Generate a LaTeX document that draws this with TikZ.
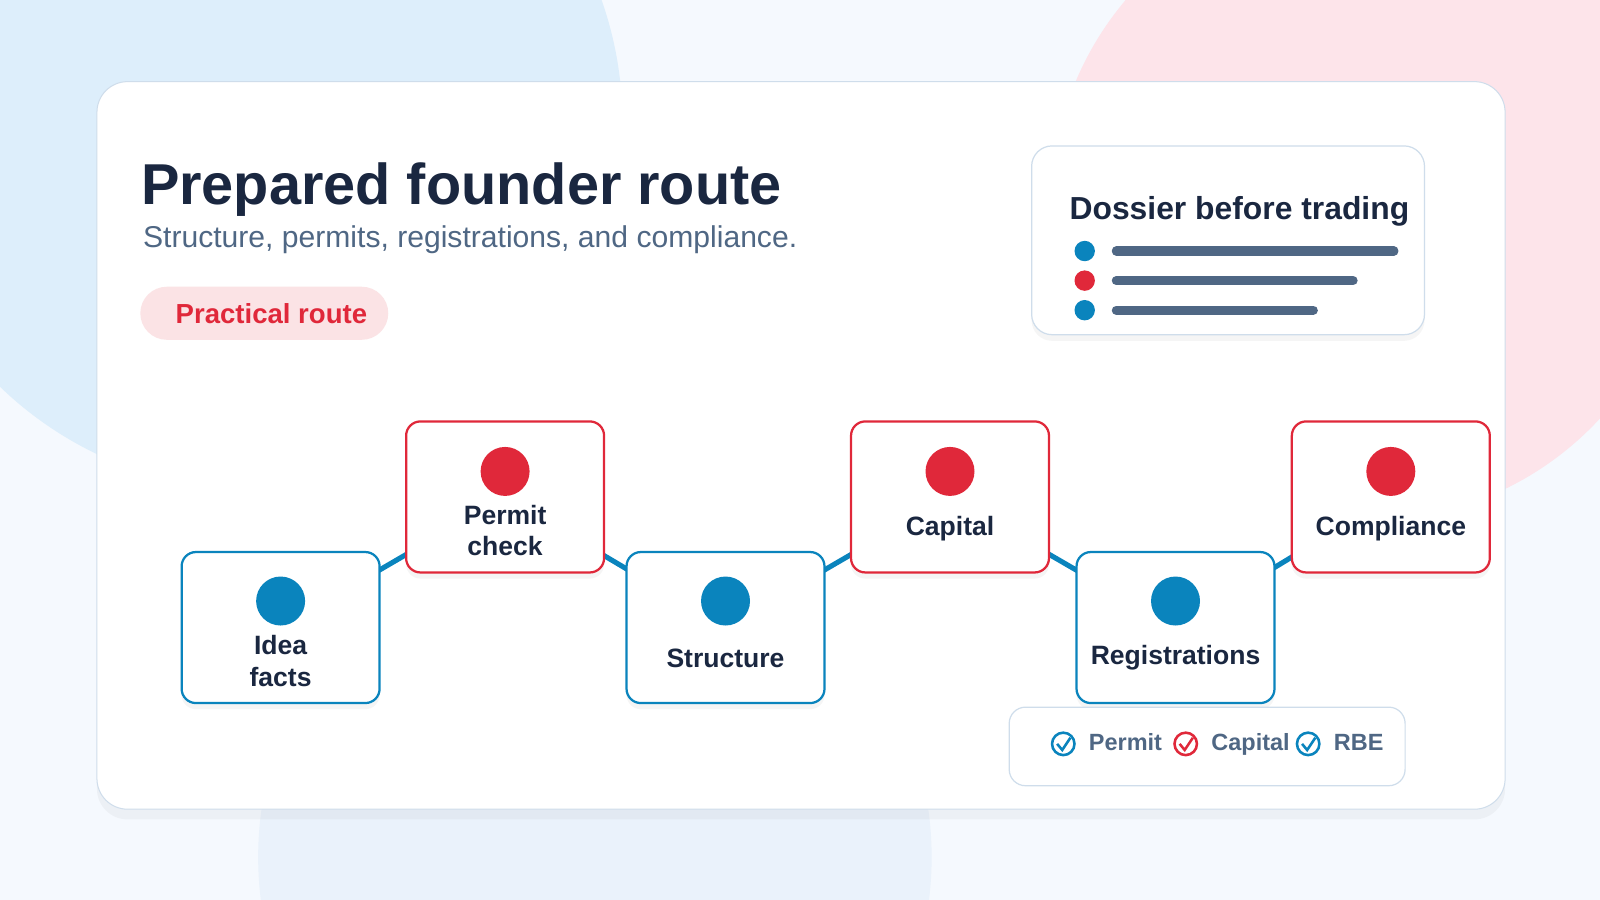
\documentclass[tikz,border=0pt]{standalone}
\usepackage{fontspec}
\setmainfont{Liberation Sans}
\usetikzlibrary{shadows}
\definecolor{bl}{HTML}{0A84BD}
\definecolor{rd}{HTML}{E0283A}
\definecolor{dk}{HTML}{1A2740}
\definecolor{gr}{HTML}{4F6784}
\definecolor{bd}{HTML}{CFDDEB}
\definecolor{bgb}{HTML}{DDEEFB}
\definecolor{bgp}{HTML}{FDE4EA}
\definecolor{bgl}{HTML}{EAF2FB}
\definecolor{bg}{HTML}{F5F9FE}
\tikzset{
  stepbox/.style={draw=#1,line width=2.2pt,fill=white,rounded corners=14pt,minimum width=194pt,minimum height=148pt,
    drop shadow={opacity=0.08,shadow xshift=0pt,shadow yshift=-6pt}},
  lbl/.style={font=\fontsize{26}{31}\selectfont\bfseries,text=dk,align=center},
  dot/.style={circle,fill=#1,minimum size=48pt,inner sep=0pt},
  link/.style={draw=bl,line width=5pt},
  bar/.style={draw=gr,line width=9pt,line cap=round},
  chk/.style={circle,draw=#1,line width=2.5pt,minimum size=22pt,inner sep=0pt},
}
\begin{document}
\begin{tikzpicture}[x=1pt,y=-1pt]
\useasboundingbox (0,0) rectangle (1568,882);
\fill[bg] (0,0) rectangle (1568,882);
\fill[bgb] (250,120) circle (360);
\fill[bgp] (1340,200) circle (310);
\fill[bgl] (583,840) circle (330);
\node[draw=bd,line width=1pt,fill=white,rounded corners=30pt,minimum width=1380pt,minimum height=713pt,
  drop shadow={opacity=0.07,shadow xshift=0pt,shadow yshift=-10pt}] (card) at (785,436.5) {};
\node[anchor=base west,font=\fontsize{56.5}{60}\selectfont\bfseries,text=dk,inner sep=0] (title) at (138,200) {Prepared founder route};
\node[anchor=base west,font=\fontsize{29.5}{30}\selectfont,text=gr,inner sep=0] (sub) at (140,243) {Structure, permits, registrations, and compliance.};
\node[fill=rd!13,rounded corners=26pt,minimum width=243pt,minimum height=52pt,font=\fontsize{27}{30}\selectfont\bfseries,text=rd] (pill) at (259,307) {\hspace{14pt}Practical route};
% dossier
\node[draw=bd,line width=1.2pt,fill=white,rounded corners=20pt,minimum width=385pt,minimum height=185pt,
  drop shadow={opacity=0.08,shadow xshift=0pt,shadow yshift=-6pt}] (dos) at (1203.5,235.5) {};
\node[anchor=base west,font=\fontsize{31.2}{32}\selectfont\bfseries,text=dk,inner sep=0] (dost) at (1048,215) {Dossier before trading};
\node[dot=bl,minimum size=20pt] (b1) at (1063,246) {};
\node[dot=rd,minimum size=20pt] (b2) at (1063,275) {};
\node[dot=bl,minimum size=20pt] (b3) at (1063,304) {};
\draw[bar] (1094,246) -- (1366,246);
\draw[bar] (1094,275) -- (1326,275);
\draw[bar] (1094,304) -- (1287,304);
% steps
\coordinate (c1) at (275,615); \coordinate (c2) at (495,487); \coordinate (c3) at (711,615);
\coordinate (c4) at (931,487); \coordinate (c5) at (1152,615); \coordinate (c6) at (1363,487);
\draw[link] (c1)--(c2)--(c3)--(c4)--(c5)--(c6);
\node[stepbox=bl] (s1) at (c1) {};
\node[stepbox=rd] (s2) at (c2) {};
\node[stepbox=bl] (s3) at (c3) {};
\node[stepbox=rd] (s4) at (c4) {};
\node[stepbox=bl] (s5) at (c5) {};
\node[stepbox=rd] (s6) at (c6) {};
\node[dot=bl] (d1) at (275,589) {}; \node[lbl] (t1) at (275,648) {Idea\\facts};
\node[dot=rd] (d2) at (495,462) {}; \node[lbl] (t2) at (495,520) {Permit\\check};
\node[dot=bl] (d3) at (711,589) {}; \node[lbl] (t3) at (711,645) {Structure};
\node[dot=rd] (d4) at (931,462) {}; \node[lbl] (t4) at (931,518) {Capital};
\node[dot=bl] (d5) at (1152,589) {}; \node[lbl] (t5) at (1152,645) {Registrations};
\node[dot=rd] (d6) at (1363,462) {}; \node[lbl] (t6) at (1363,518) {Compliance};
% legend
\node[draw=bd,line width=1.2pt,fill=white,rounded corners=16pt,minimum width=388pt,minimum height=77pt] (leg) at (1183,731.5) {};
\node[chk=bl] (k1) at (1042,729) {}; \draw[bl,line width=2.5pt] (1036,729)--(1041,735)--(1049,723);
\node[chk=rd] (k2) at (1162,729) {}; \draw[rd,line width=2.5pt] (1156,729)--(1161,735)--(1169,723);
\node[chk=bl] (k3) at (1282,729) {}; \draw[bl,line width=2.5pt] (1276,729)--(1281,735)--(1289,723);
\tikzset{lt/.style={anchor=base west,font=\fontsize{23}{25}\selectfont\bfseries,text=gr,inner sep=0}}
\node[lt] (l1) at (1067,735) {Permit};
\node[lt] (l2) at (1187,735) {Capital};
\node[lt] (l3) at (1307,735) {RBE};
\end{tikzpicture}
\end{document}
